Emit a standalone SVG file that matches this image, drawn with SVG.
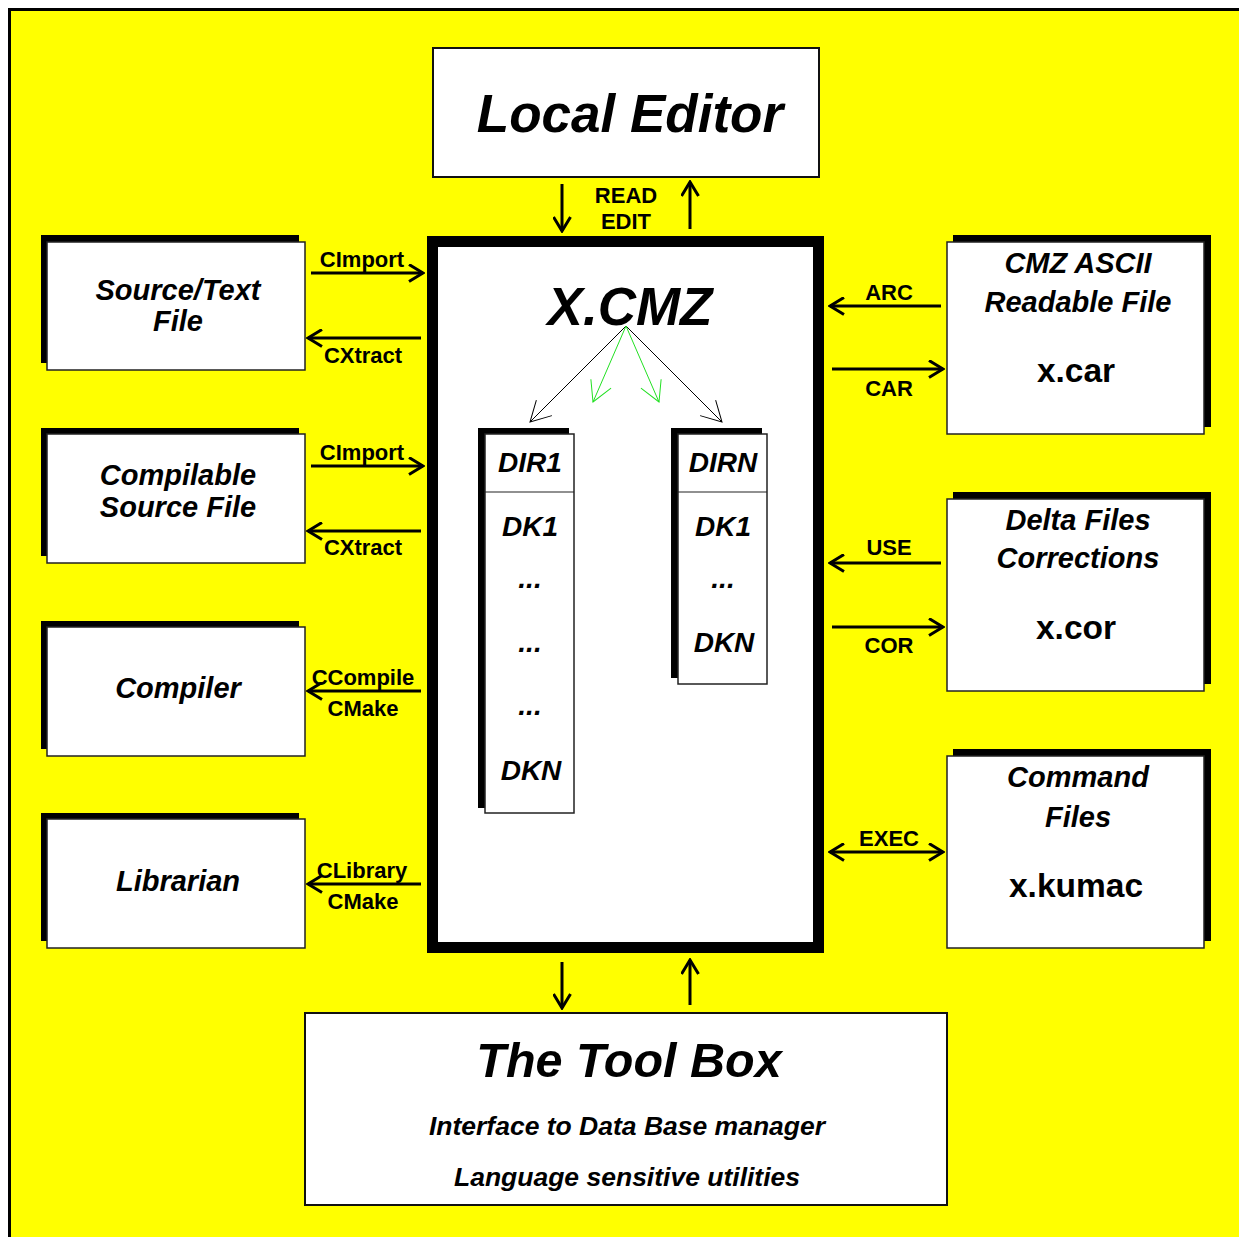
<svg xmlns="http://www.w3.org/2000/svg" width="1239" height="1237" viewBox="0 0 1239 1237">
<style>
.t{font-family:"Liberation Sans",Arial,Helvetica,sans-serif;font-weight:bold;font-style:italic;text-anchor:middle;fill:#000}
.n{font-family:"Liberation Sans",Arial,Helvetica,sans-serif;font-weight:bold;text-anchor:middle;fill:#000}
.lbl{font-size:22px}
.box{fill:#fff;stroke:#222;stroke-width:1.5}
.sh{fill:#000}
.ar{stroke:#000;stroke-width:3;fill:none}
.thin{stroke:#000;stroke-width:1;fill:none}
.grn{stroke:#22e022;stroke-width:1;fill:none}
</style>
<defs>
<marker id="ah" markerUnits="userSpaceOnUse" viewBox="0 0 17 19" refX="15" refY="9.5" markerWidth="17" markerHeight="19" orient="auto-start-reverse">
<path d="M1,1 L15,9.5 L1,18" fill="none" stroke="#000" stroke-width="3"/>
</marker>
<marker id="ahT" markerUnits="userSpaceOnUse" viewBox="0 0 22 24" refX="21" refY="12" markerWidth="22" markerHeight="24" orient="auto">
<path d="M1,1 L21,12 L1,23" fill="none" stroke="#000" stroke-width="1"/>
</marker>
<marker id="ahG" markerUnits="userSpaceOnUse" viewBox="0 0 22 24" refX="21" refY="12" markerWidth="22" markerHeight="24" orient="auto">
<path d="M1,1 L21,12 L1,23" fill="none" stroke="#22e022" stroke-width="1"/>
</marker>
</defs>
<rect x="0" y="0" width="1239" height="1237" fill="#fff"/>
<rect x="9.5" y="9.5" width="1240" height="1240" fill="#ffff00" stroke="#000" stroke-width="3"/>

<g id="local-editor">
<rect x="433" y="48" width="386" height="129" fill="#fff" stroke="#111" stroke-width="2"/>
<text class="t" x="630" y="132" font-size="53">Local Editor</text>
</g>

<g id="xcmz">
<rect x="432.5" y="241.5" width="386" height="706" fill="#fff" stroke="#000" stroke-width="11"/>
<text class="t" x="630" y="325" font-size="53">X.CMZ</text>
</g>

<g id="dir1">
<rect class="sh" x="478" y="428" width="91" height="380"/>
<rect class="box" x="485" y="434" width="89" height="379"/>
<line x1="485" y1="492" x2="574" y2="492" stroke="#222" stroke-width="1.2"/>
<text class="t" x="530" y="472" font-size="28">DIR1</text>
<text class="t" x="530" y="536" font-size="28">DK1</text>
<text class="t" x="530" y="588" font-size="28">...</text>
<text class="t" x="530" y="652" font-size="28">...</text>
<text class="t" x="530" y="715" font-size="28">...</text>
<text class="t" x="531" y="780" font-size="28">DKN</text>
</g>

<g id="dirn">
<rect class="sh" x="671" y="428" width="91" height="250"/>
<rect class="box" x="678" y="434" width="89" height="250"/>
<line x1="678" y1="492" x2="767" y2="492" stroke="#222" stroke-width="1.2"/>
<text class="t" x="723" y="472" font-size="28">DIRN</text>
<text class="t" x="723" y="536" font-size="28">DK1</text>
<text class="t" x="723" y="588" font-size="28">...</text>
<text class="t" x="724" y="652" font-size="28">DKN</text>
</g>

<g id="source-text-file">
<rect class="sh" x="41" y="235" width="258" height="128"/>
<rect class="box" x="47" y="242" width="258" height="128"/>
<text class="t" x="178" y="300" font-size="29">Source/Text</text>
<text class="t" x="178" y="331" font-size="29">File</text>
</g>

<g id="compilable-source-file">
<rect class="sh" x="41" y="428" width="258" height="128"/>
<rect class="box" x="47" y="434" width="258" height="129"/>
<text class="t" x="178" y="485" font-size="29">Compilable</text>
<text class="t" x="178" y="517" font-size="29">Source File</text>
</g>

<g id="compiler">
<rect class="sh" x="41" y="621" width="258" height="128"/>
<rect class="box" x="47" y="627" width="258" height="129"/>
<text class="t" x="178" y="698" font-size="29">Compiler</text>
</g>

<g id="librarian">
<rect class="sh" x="41" y="813" width="258" height="128"/>
<rect class="box" x="47" y="819" width="258" height="129"/>
<text class="t" x="178" y="891" font-size="29">Librarian</text>
</g>

<g id="cmz-ascii">
<rect class="sh" x="953" y="235" width="258" height="192"/>
<rect class="box" x="947" y="242" width="257" height="192"/>
<text class="t" x="1078" y="273" font-size="29">CMZ ASCII</text>
<text class="t" x="1078" y="312" font-size="29">Readable File</text>
<text class="n" x="1076" y="382" font-size="33.5">x.car</text>
</g>

<g id="delta-files">
<rect class="sh" x="953" y="492" width="258" height="192"/>
<rect class="box" x="947" y="499" width="257" height="192"/>
<text class="t" x="1078" y="530" font-size="29">Delta Files</text>
<text class="t" x="1078" y="568" font-size="29">Corrections</text>
<text class="n" x="1076" y="639" font-size="33.5">x.cor</text>
</g>

<g id="command-files">
<rect class="sh" x="953" y="749" width="258" height="192"/>
<rect class="box" x="947" y="756" width="257" height="192"/>
<text class="t" x="1078" y="787" font-size="29">Command</text>
<text class="t" x="1078" y="827" font-size="29">Files</text>
<text class="n" x="1076" y="897" font-size="33.5">x.kumac</text>
</g>

<g id="tool-box">
<rect x="305" y="1013" width="642" height="192" fill="#fff" stroke="#111" stroke-width="2"/>
<text class="t" x="629" y="1077" font-size="48.5">The Tool Box</text>
<text class="t" x="627" y="1135" font-size="26.5">Interface to Data Base manager</text>
<text class="t" x="627" y="1186" font-size="26.5">Language sensitive utilities</text>
</g>

<g id="connectors">
<line class="ar" x1="562" y1="184" x2="562" y2="231" marker-end="url(#ah)"/>
<line class="ar" x1="690" y1="229" x2="690" y2="182" marker-end="url(#ah)"/>
<text class="n lbl" x="626" y="203">READ</text>
<text class="n lbl" x="626" y="229">EDIT</text>

<line class="ar" x1="311" y1="273" x2="423" y2="273" marker-end="url(#ah)"/>
<text class="n lbl" x="362" y="267">CImport</text>
<line class="ar" x1="421" y1="338" x2="308" y2="338" marker-end="url(#ah)"/>
<text class="n lbl" x="363" y="363">CXtract</text>
<line class="ar" x1="311" y1="466" x2="423" y2="466" marker-end="url(#ah)"/>
<text class="n lbl" x="362" y="460">CImport</text>
<line class="ar" x1="421" y1="531" x2="308" y2="531" marker-end="url(#ah)"/>
<text class="n lbl" x="363" y="555">CXtract</text>
<line class="ar" x1="421" y1="691" x2="308" y2="691" marker-end="url(#ah)"/>
<text class="n lbl" x="363" y="685">CCompile</text>
<text class="n lbl" x="363" y="716">CMake</text>
<line class="ar" x1="421" y1="884" x2="308" y2="884" marker-end="url(#ah)"/>
<text class="n lbl" x="362" y="878">CLibrary</text>
<text class="n lbl" x="363" y="909">CMake</text>

<line class="ar" x1="941" y1="306" x2="830" y2="306" marker-end="url(#ah)"/>
<text class="n lbl" x="889" y="300">ARC</text>
<line class="ar" x1="832" y1="369" x2="943" y2="369" marker-end="url(#ah)"/>
<text class="n lbl" x="889" y="396">CAR</text>
<line class="ar" x1="941" y1="563" x2="830" y2="563" marker-end="url(#ah)"/>
<text class="n lbl" x="889" y="555">USE</text>
<line class="ar" x1="832" y1="627" x2="943" y2="627" marker-end="url(#ah)"/>
<text class="n lbl" x="889" y="653">COR</text>
<line class="ar" x1="830" y1="852" x2="943" y2="852" marker-start="url(#ah)" marker-end="url(#ah)"/>
<text class="n lbl" x="889" y="846">EXEC</text>

<line class="ar" x1="562" y1="962" x2="562" y2="1008" marker-end="url(#ah)"/>
<line class="ar" x1="690" y1="1005" x2="690" y2="960" marker-end="url(#ah)"/>

<line class="thin" x1="626" y1="326" x2="530" y2="422" marker-end="url(#ahT)"/>
<line class="thin" x1="626" y1="326" x2="722" y2="422" marker-end="url(#ahT)"/>
<line class="grn" x1="626" y1="326" x2="593" y2="402" marker-end="url(#ahG)"/>
<line class="grn" x1="626" y1="326" x2="659" y2="402" marker-end="url(#ahG)"/>
</g>
</svg>
